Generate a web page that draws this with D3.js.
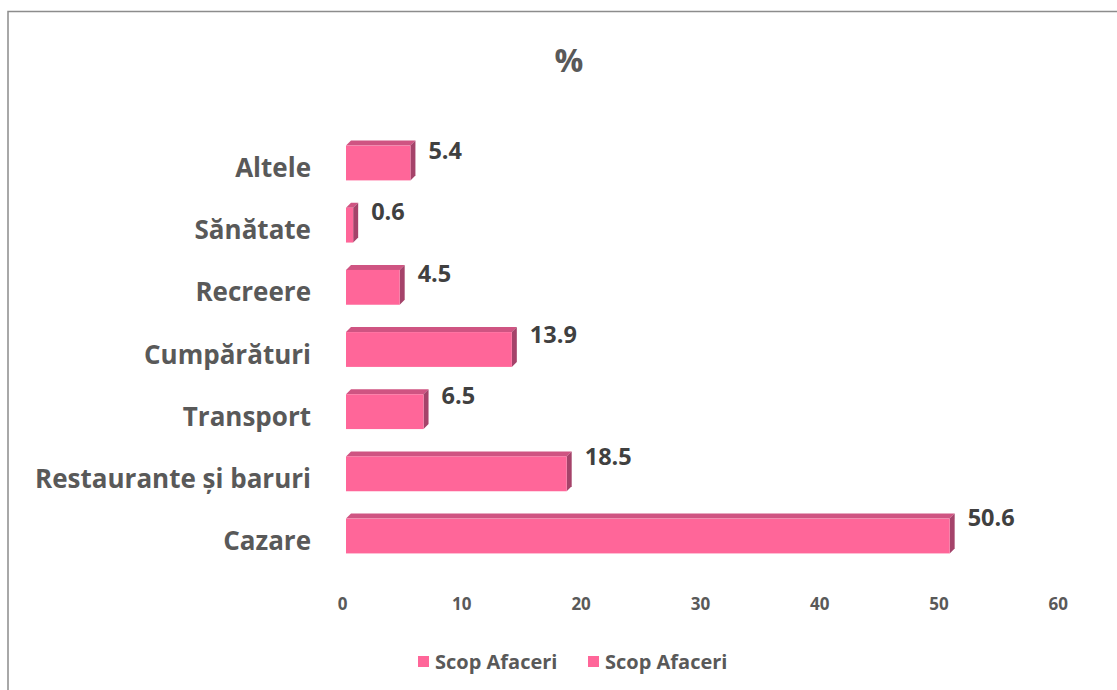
<!DOCTYPE html>
<html><head><meta charset="utf-8">
<script src="https://cdn.jsdelivr.net/npm/d3@7/dist/d3.min.js"></script>
<style>body{margin:0;background:#fff;}svg{display:block;font-family:'Open Sans',sans-serif;}</style>
</head><body>
<script>
const categories = ["Altele","Sănătate","Recreere","Cumpărături","Transport","Restaurante și baruri","Cazare"];
const values = [5.4, 0.6, 4.5, 13.9, 6.5, 18.5, 50.6];
const xTicks = [0,10,20,30,40,50,60];
const legendLabels = ["Scop Afaceri","Scop Afaceri"];
const title = "%";

const W=1117,H=690;
const FF="'Open Sans',sans-serif";
const svg=d3.select("body").append("svg").attr("width",W).attr("height",H);
svg.append("path").attr("d","M8,"+H+" L8,11.5 L"+W+",11.5").attr("fill","none").attr("stroke","#8c8c8c").attr("stroke-width",1.5);

const x=d3.scaleLinear().domain([0,60]).range([346,346+60*11.93]);
const y=d3.scaleBand().domain(categories).range([131.9,567.1]).paddingInner(0.44).paddingOuter(0.22);
const depth=5;
const front="#ff6699", topC="#cf5482", sideC="#a5436a";

svg.append("text").attr("x",569).attr("y",72).attr("text-anchor","middle")
  .attr("font-size",32).attr("font-weight","bold").attr("fill","#595959").text(title);

const g=svg.append("g");
categories.forEach((c,i)=>{
  const v=values[i], x0=x(0), x1=x(v), y0=y(c), h=y.bandwidth();
  g.append("path").attr("d",`M${x0},${y0} L${x0+depth},${y0-depth} L${x1+depth},${y0-depth} L${x1},${y0} Z`).attr("fill",topC);
  g.append("path").attr("d",`M${x1},${y0} L${x1+depth},${y0-depth} L${x1+depth},${y0+h-depth} L${x1},${y0+h} Z`).attr("fill",sideC);
  g.append("rect").attr("x",x0).attr("y",y0).attr("width",x1-x0).attr("height",h).attr("fill",front);
  g.append("text").attr("x",x1+18).attr("y",y0+h/2-(12+i)).attr("dy","0.35em")
    .attr("font-size",23.5).attr("font-weight","bold").attr("fill","#404040").text(v.toFixed(1));
  g.append("text").attr("x",311).attr("y",y0+h/2+5).attr("dy","0.35em").attr("text-anchor","end")
    .attr("font-size",26).attr("font-weight","bold").attr("fill","#595959").text(c);
});

const ax=svg.append("g").attr("transform","translate(-4,0)")
  .call(d3.axisBottom(x).tickValues(xTicks).tickSize(0).tickPadding(0));
ax.select(".domain").remove();
ax.selectAll("text").attr("y",604).attr("dy","0.35em").attr("font-size",17).attr("font-weight","bold")
  .attr("fill","#595959").attr("font-family",FF);

const lx=[418,588];
legendLabels.forEach((l,i)=>{
  svg.append("rect").attr("x",lx[i]).attr("y",656).attr("width",11).attr("height",11).attr("fill",front);
  svg.append("text").attr("x",lx[i]+17).attr("y",662).attr("dy","0.35em").attr("font-size",20)
    .attr("font-weight","bold").attr("fill","#595959").text(l);
});
</script>
</body></html>
